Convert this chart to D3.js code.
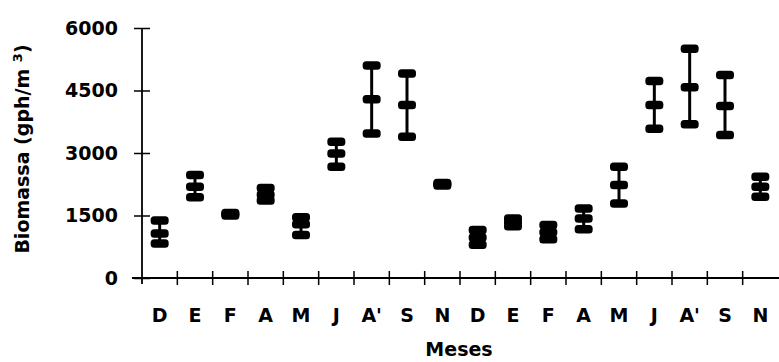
<!DOCTYPE html>
<meta charset="utf-8">
<style>
body { margin: 0; background: #fff; }
text { font-family: "DejaVu Sans", sans-serif; font-weight: bold; fill: #000; }
.axis .domain { display: none; }
</style>
<svg width="779" height="362"></svg>
<script src="https://d3js.org/d3.v7.min.js"></script>
<script>

var months = ["D", "E", "F", "A", "M", "J", "A'", "S", "N", "D", "E", "F", "A", "M", "J", "A'", "S", "N"];
var high = [1380, 2470, 1560, 2160, 1460, 3270, 5100, 4910, 2280, 1150, 1430, 1270, 1670, 2670, 4730, 5500, 4870, 2430];
var mean = [1070, 2190, 1530, 2000, 1290, 2990, 4290, 4150, 2250, 970, 1330, 1100, 1430, 2230, 4150, 4580, 4130, 2190];
var low = [830, 1940, 1500, 1860, 1030, 2670, 3470, 3390, 2220, 800, 1240, 930, 1170, 1790, 3580, 3690, 3430, 1950];
var yTicks = [0, 1500, 3000, 4500, 6000];

var svg = d3.select("svg"),
    plotLeft = 142, plotRight = 778, plotTop = 28, plotBottom = 278;

var x = d3.scaleBand()
    .domain(d3.range(months.length))
    .range([plotLeft, plotRight]);

var y = d3.scaleLinear()
    .domain([0, 6000])
    .range([plotBottom, plotTop]);

// axes lines
svg.append("line")
    .attr("x1", plotLeft).attr("x2", plotLeft)
    .attr("y1", plotTop).attr("y2", plotBottom + 6)
    .attr("stroke", "#000").attr("stroke-width", 1.8);

svg.append("line")
    .attr("x1", 132).attr("x2", 779)
    .attr("y1", plotBottom).attr("y2", plotBottom)
    .attr("stroke", "#000").attr("stroke-width", 1.8);

// y axis
var yAxis = svg.append("g")
    .attr("class", "axis")
    .attr("transform", "translate(" + plotLeft + ",0)")
    .call(d3.axisLeft(y).tickValues(yTicks).tickSize(8).tickPadding(16).tickFormat(d3.format("d")));

yAxis.selectAll(".tick line")
    .attr("x1", -8).attr("x2", 8)
    .attr("stroke", "#000").attr("stroke-width", 1.5);

yAxis.selectAll(".tick text")
    .attr("font-size", 19)
    .attr("font-family", "DejaVu Sans")
    .attr("font-weight", "bold")
    .attr("fill", "#000");

// x axis: labels at band centres, ticks at band edges
var xAxis = svg.append("g")
    .attr("class", "axis")
    .attr("transform", "translate(0," + plotBottom + ")")
    .call(d3.axisBottom(x).tickSize(0).tickFormat(function(i) { return months[i]; }));

xAxis.selectAll(".tick text")
    .attr("y", 44)
    .attr("dy", 0)
    .attr("font-size", 19)
    .attr("font-family", "DejaVu Sans")
    .attr("font-weight", "bold")
    .attr("fill", "#000");

svg.append("g")
  .selectAll("line")
  .data(d3.range(1, months.length))
  .enter().append("line")
    .attr("x1", function(i) { return x(i); })
    .attr("x2", function(i) { return x(i); })
    .attr("y1", plotBottom - 7)
    .attr("y2", plotBottom + 7)
    .attr("stroke", "#000")
    .attr("stroke-width", 1.5);

// error bars
var capW = 18, capH = 8.5;
var bars = svg.append("g")
  .selectAll("g")
  .data(months.map(function(m, i) { return {i: i, high: high[i], mean: mean[i], low: low[i]}; }))
  .enter().append("g")
    .attr("transform", function(d) { return "translate(" + (x(d.i) + x.bandwidth() / 2) + ",0)"; });

bars.append("line")
    .attr("y1", function(d) { return y(d.high); })
    .attr("y2", function(d) { return y(d.low); })
    .attr("stroke", "#000")
    .attr("stroke-width", 3);

bars.selectAll("rect")
  .data(function(d) { return [d.high, d.mean, d.low]; })
  .enter().append("rect")
    .attr("x", -capW / 2)
    .attr("y", function(v) { return y(v) - capH / 2; })
    .attr("width", capW)
    .attr("height", capH)
    .attr("rx", 3.5)
    .attr("fill", "#000");

// axis titles
svg.append("text")
    .attr("x", 459)
    .attr("y", 356)
    .attr("text-anchor", "middle")
    .attr("font-size", 19)
    .text("Meses");

var yt = svg.append("text")
    .attr("transform", "translate(29,149) rotate(-90)")
    .attr("text-anchor", "middle")
    .attr("font-size", 19);
yt.append("tspan").text("Biomassa (gph/m ");
yt.append("tspan").attr("baseline-shift", "super").attr("font-size", 13).text("3");
yt.append("tspan").text(")");

</script>
